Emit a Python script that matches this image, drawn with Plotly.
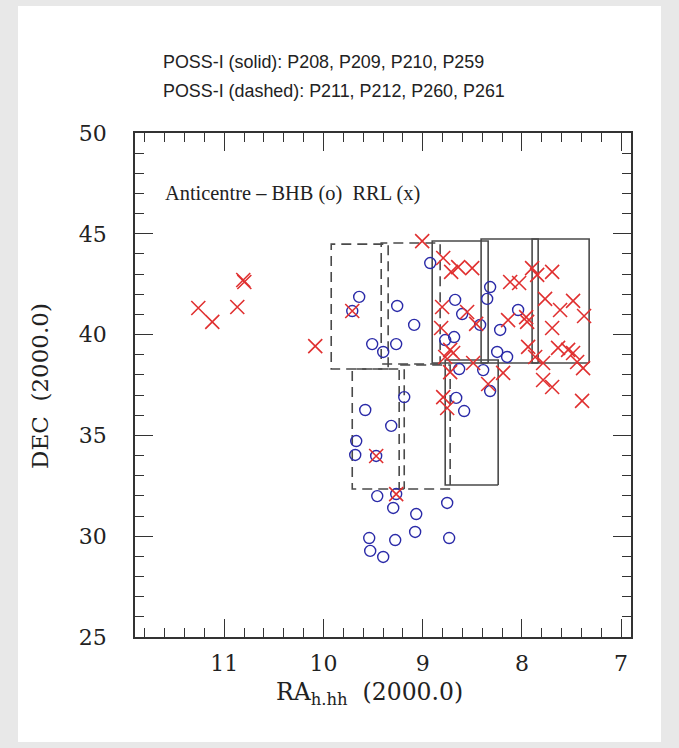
import plotly.graph_objects as go

# ---------------- data ----------------
# BHB stars (circles): RA (hours), DEC (deg)
bhb_ra = [9.640, 9.710, 9.257, 9.086, 9.509, 9.398, 9.267, 8.924, 9.186, 9.579,
          9.317, 9.670, 9.680, 9.469, 9.267, 9.458, 9.297, 9.065, 8.753, 9.539,
          9.277, 9.076, 8.733, 9.529, 9.398, 8.673, 8.602, 8.320, 8.350, 8.421,
          8.219, 8.038, 8.773, 8.683, 8.249, 8.149, 8.632, 8.390, 8.320, 8.662,
          8.582]
bhb_dec = [41.87, 41.17, 41.42, 40.48, 39.53, 39.14, 39.53, 43.55, 36.90, 36.26,
           35.47, 34.72, 34.03, 33.98, 32.09, 31.99, 31.40, 31.10, 31.65, 29.91,
           29.81, 30.21, 29.91, 29.27, 28.97, 41.72, 41.02, 42.36, 41.77, 40.48,
           40.23, 41.22, 39.73, 39.88, 39.14, 38.89, 38.29, 38.24, 37.20, 36.86,
           36.21]

# RR Lyrae stars (crosses)
rrl_ra = [11.262, 11.121, 10.869, 10.809, 10.798, 10.083, 9.710, 9.469, 9.267, 9.005,
          8.793, 8.713, 8.642, 8.501, 8.804, 8.552, 8.461, 8.814, 8.723, 8.773,
          8.693, 8.491, 8.723, 8.793, 8.753, 8.118, 8.028, 7.897, 7.846, 7.695,
          7.766, 7.615, 7.484, 7.373, 7.957, 7.947, 8.139, 7.695, 7.937, 7.866,
          7.635, 7.534, 7.484, 7.443, 7.383, 7.786, 8.189, 7.786, 7.695, 8.340,
          7.393]
rrl_dec = [41.32, 40.63, 41.37, 42.71, 42.61, 39.43, 41.17, 33.98, 32.09, 44.64,
           43.80, 43.11, 43.35, 43.30, 41.37, 41.12, 40.53, 40.33, 39.24, 38.89,
           39.09, 38.59, 38.14, 36.90, 36.36, 42.61, 42.56, 43.30, 42.96, 43.11,
           41.77, 41.22, 41.67, 40.92, 40.87, 40.63, 40.72, 40.33, 39.39, 38.89,
           39.34, 39.24, 39.09, 38.64, 38.34, 38.59, 38.10, 37.75, 37.40, 37.55,
           36.71]

# POSS-I plate outlines (solid: P208, P209, P210, P259)
solid_ra_lo = [8.340, 7.836, 7.322, 8.239]
solid_ra_hi = [8.904, 8.411, 7.897, 8.773]
solid_dec_lo = [38.59, 38.59, 38.59, 32.54]
solid_dec_hi = [44.64, 44.74, 44.74, 38.74]

# POSS-I plate outlines (dashed: P211, P212, P260, P261)
dashed_ra_lo = [9.348, 8.824, 9.186, 8.723]
dashed_ra_hi = [9.922, 9.418, 9.710, 9.237]
dashed_dec_lo = [38.29, 38.54, 32.34, 32.34]
dashed_dec_hi = [44.49, 44.54, 38.29, 38.49]

x_ticks = [11, 10, 9, 8, 7]
y_ticks = [25, 30, 35, 40, 45, 50]
x_range = [11.9, 6.9]
y_range = [25, 50]

# ---------------- figure ----------------
fig = go.Figure()

def add_boxes(ra_lo, ra_hi, dec_lo, dec_hi, dash):
    for a, b, c, d in zip(ra_lo, ra_hi, dec_lo, dec_hi):
        fig.add_trace(go.Scatter(
            x=[a, b, b, a, a], y=[c, c, d, d, c], mode="lines",
            line=dict(color="#4a4a4a", width=1.6, dash=dash),
            hoverinfo="skip", showlegend=False))

add_boxes(dashed_ra_lo, dashed_ra_hi, dashed_dec_lo, dashed_dec_hi, "10px,6px")
add_boxes(solid_ra_lo, solid_ra_hi, solid_dec_lo, solid_dec_hi, "solid")

fig.add_trace(go.Scatter(
    x=bhb_ra, y=bhb_dec, mode="markers", name="BHB",
    marker=dict(symbol="circle-open", size=11, color="#2a2aa8",
                line=dict(width=1.4, color="#2a2aa8")),
    showlegend=False))
fig.add_trace(go.Scatter(
    x=rrl_ra, y=rrl_dec, mode="markers", name="RRL",
    marker=dict(symbol="x-thin-open", size=14, color="#e03030",
                line=dict(width=1.6, color="#e03030")),
    showlegend=False))

serif = "DejaVu Serif"
axis_common = dict(
    showline=True, linecolor="#333333", linewidth=1.5, mirror="ticks",
    ticks="inside", ticklen=18, tickwidth=1.3, tickcolor="#333333",
    showgrid=False, zeroline=False,
    tickfont=dict(family=serif, size=22, color="#222222"),
)

fig.update_xaxes(range=x_range, tickvals=x_ticks, ticktext=[str(v) for v in x_ticks],
                 minor=dict(ticks="inside", ticklen=9, dtick=0.2, tickwidth=1.1,
                            tickcolor="#333333", tick0=7),
                 ticklabelstandoff=6, **axis_common)
fig.update_yaxes(range=y_range, tickvals=y_ticks, ticktext=[str(v) for v in y_ticks],
                 minor=dict(ticks="inside", ticklen=9, dtick=1, tickwidth=1.1,
                            tickcolor="#333333", tick0=25),
                 ticklabelstandoff=22, **axis_common)

L, T, R, B = 135, 133, 631, 637
W, H = 679, 748
pw, ph = R - L, B - T

def px(x):
    return (x - L) / pw

def py(y):
    return (B - y) / ph

fig.add_shape(type="rect", xref="paper", yref="paper", layer="below",
              x0=px(18), x1=px(661), y0=py(742), y1=py(6),
              fillcolor="white", line=dict(width=0))

annos = [
    dict(text="POSS-I (solid): P208, P209, P210, P259", x=px(161), y=py(62),
         xanchor="left", yanchor="middle",
         font=dict(family="Liberation Sans", size=17.9, color="#222222")),
    dict(text="POSS-I (dashed): P211, P212, P260, P261", x=px(161), y=py(91),
         xanchor="left", yanchor="middle",
         font=dict(family="Liberation Sans", size=17.9, color="#222222")),
    dict(text="Anticentre \u2013 BHB (o)  RRL (x)", x=px(163), y=py(193),
         xanchor="left", yanchor="middle",
         font=dict(family="Liberation Serif", size=20.4, color="#222222")),
    dict(text="DEC  (2000.0)", x=px(40), y=py(386), textangle=-90,
         xanchor="center", yanchor="middle",
         font=dict(family=serif, size=23, color="#222222")),
    dict(text="RA<sub>h.hh</sub>  (2000.0)", x=px(369), y=py(693),
         xanchor="center", yanchor="middle",
         font=dict(family=serif, size=23.5, color="#222222")),
]
for a in annos:
    fig.add_annotation(xref="paper", yref="paper", showarrow=False, **a)

fig.update_layout(
    width=W, height=H,
    margin=dict(l=L, r=W - R, t=T, b=H - B, pad=0),
    paper_bgcolor="#e8e8e8", plot_bgcolor="white",
    showlegend=False,
)

fig.write_html("out.html")
